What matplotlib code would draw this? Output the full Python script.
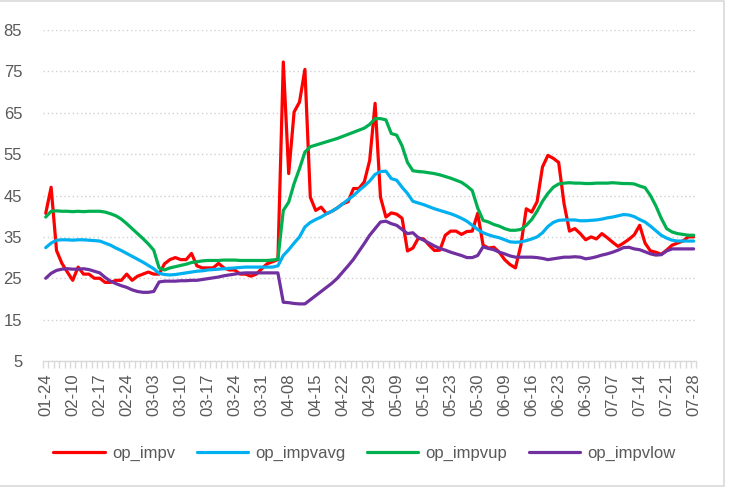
import matplotlib
matplotlib.use("Agg")
import matplotlib.pyplot as plt
from matplotlib.patches import Rectangle
from matplotlib.ticker import FixedLocator

plt.rcParams['font.family'] = ['Liberation Sans', 'DejaVu Sans']

# tick labels, one every 5 trading days
tick_labels = ['01-24', '02-10', '02-17', '02-24', '03-03', '03-10', '03-17', '03-24',
               '03-31', '04-08', '04-15', '04-22', '04-29', '05-09', '05-16', '05-23',
               '05-30', '06-09', '06-16', '06-23', '06-30', '07-07', '07-14', '07-21', '07-28']

op_impv = [40.7, 47.0, 31.7, 28.6, 26.5, 24.5, 27.7, 26.0, 26.0, 25.0,
           25.0, 24.0, 24.0, 24.5, 24.5, 26.0, 24.5, 25.5, 26.0, 26.5,
           26.0, 26.0, 28.5, 29.5, 30.0, 29.5, 29.5, 31.0, 28.0, 27.5,
           27.5, 27.5, 28.6, 27.5, 27.0, 27.0, 26.0, 26.0, 25.5, 26.0,
           27.3, 28.5, 29.0, 29.5, 77.3, 50.3, 65.2, 67.6, 75.5, 44.6,
           41.4, 42.2, 40.6, 41.2, 42.0, 43.0, 43.5, 46.7, 46.7, 48.3,
           53.5, 67.3, 44.6, 39.8, 40.8, 40.5, 39.5, 31.6, 32.3, 34.7,
           34.5, 33.0, 31.7, 31.8, 35.4, 36.4, 36.4, 35.6, 36.3, 36.4,
           40.7, 33.0, 32.3, 32.5, 31.3, 29.5, 28.3, 27.5, 33.0, 41.8,
           41.0, 43.5, 51.9, 54.7, 54.0, 53.0, 43.0, 36.4, 37.0, 35.8,
           34.3, 35.0, 34.5, 35.8, 34.8, 33.7, 32.7, 33.5, 34.4, 35.5,
           37.8, 33.5, 31.6, 31.3, 30.8, 31.8, 33.0, 33.5, 34.0, 35.0,
           35.0]

op_impvavg = [32.4, 33.5, 34.2, 34.3, 34.3, 34.2, 34.3, 34.3, 34.2, 34.1,
              34.0, 33.5, 33.0, 32.3, 31.7, 31.0, 30.3, 29.6, 28.9, 28.1,
              27.3, 26.2, 25.9, 25.8, 25.9, 26.1, 26.3, 26.5, 26.7, 26.8,
              27.0, 27.1, 27.2, 27.3, 27.4, 27.5, 27.6, 27.7, 27.7, 27.7,
              27.7, 27.7, 27.7, 28.0, 30.5, 31.9, 33.5, 35.0, 37.4, 38.5,
              39.2, 39.8, 40.6, 41.2, 42.0, 43.0, 44.0, 45.0, 46.2, 47.3,
              48.5, 50.1, 50.8, 50.9, 49.1, 48.7, 47.0, 45.5, 43.6, 43.2,
              42.8, 42.3, 41.8, 41.4, 41.0, 40.6, 40.1, 39.5, 38.8, 37.8,
              36.8, 36.0, 35.5, 35.1, 34.8, 34.3, 33.8, 33.7, 33.8, 34.1,
              34.5, 35.0, 36.0, 37.5, 38.5, 39.0, 39.1, 39.1, 39.1, 38.9,
              38.9, 39.0, 39.1, 39.3, 39.6, 39.8, 40.1, 40.4, 40.3, 39.9,
              39.2, 38.6, 37.6, 36.5, 35.4, 34.7, 34.2, 34.0, 34.0, 34.0,
              34.0]

op_impvup = [39.8, 41.2, 41.3, 41.2, 41.2, 41.1, 41.2, 41.1, 41.2, 41.2,
             41.2, 41.0, 40.6, 40.1, 39.3, 38.2, 37.0, 35.8, 34.6, 33.3,
             31.8, 27.5, 27.0, 27.5, 27.8, 28.1, 28.4, 28.8, 29.0, 29.2,
             29.3, 29.3, 29.3, 29.4, 29.4, 29.4, 29.3, 29.3, 29.3, 29.3,
             29.3, 29.3, 29.4, 29.6, 41.4, 43.4, 47.9, 51.5, 55.5, 56.8,
             57.2, 57.6, 58.0, 58.4, 58.8, 59.3, 59.8, 60.3, 60.8, 61.3,
             62.2, 63.6, 63.6, 63.3, 60.0, 59.6, 57.0, 53.0, 51.0, 50.8,
             50.7, 50.5, 50.3, 50.0, 49.6, 49.2, 48.7, 48.2, 47.3, 46.2,
             42.0, 39.0, 38.6, 38.0, 37.6, 37.0, 36.6, 36.6, 36.8, 37.8,
             39.2, 41.2, 43.6, 45.5, 47.0, 47.8, 48.0, 48.1, 48.0, 48.0,
             47.9, 47.9, 48.0, 48.0, 48.0, 48.1, 48.0, 47.9, 47.9, 47.8,
             47.3, 46.9, 45.0, 42.5, 39.5, 37.0, 36.2, 35.8, 35.6, 35.4,
             35.4]

op_impvlow = [25.0, 26.2, 26.9, 27.2, 27.3, 27.2, 27.2, 27.3, 27.1, 26.7,
              26.3, 25.2, 24.3, 23.7, 23.2, 22.8, 22.2, 21.8, 21.6, 21.6,
              21.8, 24.1, 24.3, 24.3, 24.3, 24.4, 24.4, 24.5, 24.5, 24.7,
              24.9, 25.1, 25.3, 25.6, 25.8, 26.0, 26.2, 26.3, 26.3, 26.3,
              26.3, 26.3, 26.3, 26.3, 19.2, 19.1, 18.9, 18.8, 18.8, 19.8,
              20.8, 21.8, 22.8, 23.8, 25.0, 26.5, 28.0, 29.6, 31.5, 33.4,
              35.4, 37.0, 38.6, 38.8, 38.2, 37.8, 36.8, 35.8, 36.0, 34.8,
              34.2, 33.5, 32.8, 32.2, 31.8, 31.3, 30.9, 30.5, 30.0, 30.0,
              30.5, 32.6, 32.2, 31.9, 31.3, 30.9, 30.4, 30.1, 30.1, 30.1,
              30.1, 30.0, 29.8, 29.5, 29.7, 29.9, 30.1, 30.1, 30.2, 30.1,
              29.7, 29.9, 30.2, 30.6, 30.9, 31.3, 31.8, 32.4, 32.5, 32.1,
              31.9, 31.4, 30.9, 30.6, 30.7, 31.6, 32.1, 32.1, 32.1, 32.1,
              32.1]

series = [('op_impv', op_impv, '#FF0000'),
          ('op_impvavg', op_impvavg, '#00B0F0'),
          ('op_impvup', op_impvup, '#00B050'),
          ('op_impvlow', op_impvlow, '#7030A0')]

fig = plt.figure(figsize=(7.33, 4.88), dpi=100)
ax = fig.add_axes([0.0587, 0.2603, 0.8913, 0.678])

x = list(range(len(op_impv)))
for name, vals, col in series:
    ax.plot(x, vals, color=col, lw=2.3, label=name, solid_joinstyle='round',
            solid_capstyle='round')

ax.set_xlim(-0.5, len(x) - 0.5)
ax.set_ylim(5, 85)
ax.set_yticks(range(5, 86, 10))
ax.yaxis.grid(True, color='#d0d0d0', linestyle=(0, (1, 2)), lw=1)
ax.set_axisbelow(True)

ax.set_xticks(range(0, len(x), 5))
ax.set_xticklabels(tick_labels, rotation=90)
ax.xaxis.set_minor_locator(FixedLocator([k - 0.5 for k in range(len(x) + 1)]))
ax.tick_params(axis='x', which='major', length=0, pad=9, labelsize=12, labelcolor='#595959')
ax.tick_params(axis='x', which='minor', length=5, color='#d9d9d9', width=1)
ax.tick_params(axis='y', length=0, pad=15, labelsize=12, labelcolor='#595959')

for s in ['top', 'right', 'left']:
    ax.spines[s].set_visible(False)
ax.spines['bottom'].set_color('#d9d9d9')
ax.spines['bottom'].set_linewidth(1)

leg = fig.legend(loc='center', bbox_to_anchor=(0.497, 0.071), ncol=4, frameon=False,
                 handlelength=3.1, columnspacing=1.3, handletextpad=0.4, fontsize=12)
for t in leg.get_texts():
    t.set_color('#595959')

fig.patches.append(Rectangle((-0.01, 0.004), 0.998, 0.993, transform=fig.transFigure,
                             fill=False, edgecolor='#d9d9d9', lw=1.2))

fig.savefig('out.png', dpi=100)
